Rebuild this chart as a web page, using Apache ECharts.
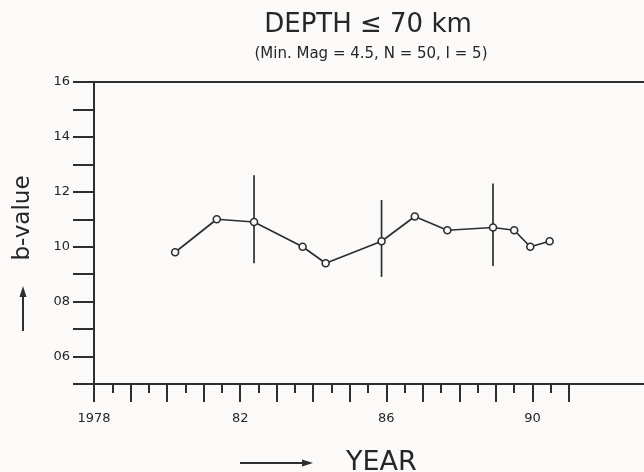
<!DOCTYPE html>
<html>
<head>
<meta charset="utf-8">
<script src="https://cdn.jsdelivr.net/npm/echarts@6/dist/echarts.min.js"></script>
<style>
  html, body { margin: 0; padding: 0; background: #fcfaf9; }
  #chart { width: 644px; height: 472px; }
</style>
</head>
<body>
<div id="chart"></div>
<script>
// ---- data ----
const years   = [1980.22, 1981.36, 1982.38, 1983.71, 1984.34, 1985.87, 1986.78, 1987.67, 1988.92, 1989.50, 1989.94, 1990.47];
const bValues = [0.98, 1.10, 1.09, 1.00, 0.94, 1.02, 1.11, 1.06, 1.07, 1.06, 1.00, 1.02];
const errYears = [1982.38, 1985.87, 1988.92];
const errLow   = [0.94, 0.89, 0.93];
const errHigh  = [1.26, 1.17, 1.23];
const xLabelYears = [1978, 1982, 1986, 1990];
const xLabelTexts = ['1978', '82', '86', '90'];
const yLabelValues = [0.6, 0.8, 1.0, 1.2, 1.4, 1.6];
const yLabelTexts  = ['06', '08', '10', '12', '14', '16'];
const titleText = 'DEPTH \u2264 70 km';
const subtitleText = '(Min. Mag = 4.5, N = 50, I = 5)';
const xName = 'YEAR';
const yName = 'b-value';

const ink = '#2e2e2e';
const textInk = '#262626';
const bg = '#fcfaf9';
const font = '"DejaVu Sans", sans-serif';

const chart = echarts.init(document.getElementById('chart'), null, { renderer: 'canvas' });

const lineData = years.map((y, i) => [y, bValues[i]]);
const errData = errYears.map((y, i) => [y, errLow[i], errHigh[i]]);

const option = {
  backgroundColor: bg,
  animation: false,
  grid: [
    { left: 94, right: 75, top: 82, bottom: 88, containLabel: false, outerBoundsMode: 'none' },
    { left: 94, right: -40, top: 82, bottom: 88, containLabel: false, outerBoundsMode: 'none' }
  ],
  xAxis: [
    {
      type: 'value', gridIndex: 0, min: 1978, max: 1991, interval: 1,
      axisLine: { show: true, lineStyle: { color: ink, width: 2 } },
      axisTick: { show: true, length: 18, lineStyle: { color: ink, width: 2 } },
      minorTick: { show: true, splitNumber: 2, length: 9, lineStyle: { color: ink, width: 2 } },
      splitLine: { show: false },
      minorSplitLine: { show: false },
      axisLabel: {
        margin: 28, color: textInk, fontFamily: font, fontSize: 13,
        formatter: function (v) {
          const idx = xLabelYears.indexOf(Math.round(v));
          return idx >= 0 ? xLabelTexts[idx] : '';
        }
      }
    },
    {
      type: 'value', gridIndex: 1, min: 0, max: 1, position: 'bottom',
      axisLine: { show: true, lineStyle: { color: ink, width: 2 } },
      axisTick: { show: false }, axisLabel: { show: false }, splitLine: { show: false }
    },
    {
      type: 'value', gridIndex: 1, min: 0, max: 1, position: 'top',
      axisLine: { show: true, lineStyle: { color: ink, width: 2 } },
      axisTick: { show: false }, axisLabel: { show: false }, splitLine: { show: false }
    }
  ],
  yAxis: [
    {
      type: 'value', gridIndex: 0, min: 0.5, max: 1.6, interval: 0.1,
      axisLine: { show: true, lineStyle: { color: ink, width: 2 } },
      axisTick: { show: true, length: 21, lineStyle: { color: ink, width: 2 } },
      splitLine: { show: false },
      axisLabel: {
        margin: 24, color: textInk, fontFamily: font, fontSize: 13,
        formatter: function (v) {
          const idx = yLabelValues.findIndex(t => Math.abs(t - v) < 1e-6);
          return idx >= 0 ? yLabelTexts[idx] : '';
        }
      }
    },
    {
      type: 'value', gridIndex: 1, min: 0, max: 1, show: false
    }
  ],
  series: [
    {
      type: 'custom', xAxisIndex: 0, yAxisIndex: 0, z: 1,
      data: errData,
      renderItem: function (params, api) {
        const x = api.value(0);
        const lo = api.coord([x, api.value(1)]);
        const hi = api.coord([x, api.value(2)]);
        return {
          type: 'line',
          shape: { x1: lo[0], y1: lo[1], x2: hi[0], y2: hi[1] },
          style: { stroke: ink, lineWidth: 1.7 }
        };
      }
    },
    {
      type: 'line', xAxisIndex: 0, yAxisIndex: 0, z: 3,
      data: lineData,
      symbol: 'circle', symbolSize: 7,
      lineStyle: { color: ink, width: 1.7 },
      itemStyle: { color: bg, borderColor: ink, borderWidth: 1.6 }
    }
  ],
  graphic: [
    { type: 'text', style: { text: titleText, x: 368, y: 25, align: 'center', verticalAlign: 'middle', font: '26px ' + font, fill: textInk } },
    { type: 'text', style: { text: subtitleText, x: 371, y: 54, align: 'center', verticalAlign: 'middle', font: '15px ' + font, fill: textInk } },
    { type: 'text', x: 23, y: 218, rotation: Math.PI / 2,
      style: { text: yName, x: 0, y: 0, align: 'center', verticalAlign: 'middle', font: '23px ' + font, fill: textInk } },
    { type: 'line', shape: { x1: 23, y1: 331, x2: 23, y2: 294 }, style: { stroke: ink, lineWidth: 2 } },
    { type: 'polygon', shape: { points: [[23, 286], [19.5, 297], [26.5, 297]] }, style: { fill: ink } },
    { type: 'line', shape: { x1: 240, y1: 463, x2: 304, y2: 463 }, style: { stroke: ink, lineWidth: 2 } },
    { type: 'polygon', shape: { points: [[313, 463], [302, 459.5], [302, 466.5]] }, style: { fill: ink } },
    { type: 'text', style: { text: xName, x: 346, y: 463, align: 'left', verticalAlign: 'middle', font: '27px ' + font, fill: textInk } }
  ]
};

chart.setOption(option);
</script>
</body>
</html>
